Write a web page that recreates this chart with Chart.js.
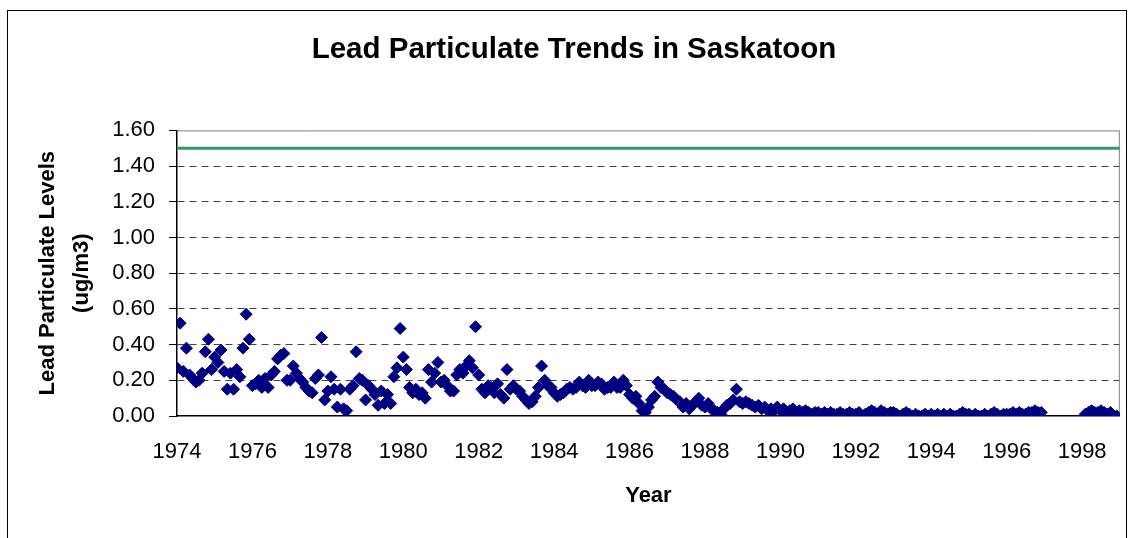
<!DOCTYPE html>
<html>
<head>
<meta charset="utf-8">
<title>Lead Particulate Trends in Saskatoon</title>
<script src="https://cdn.jsdelivr.net/npm/chart.js@4.4.1/dist/chart.umd.min.js"></script>
<style>
    html, body { margin: 0; padding: 0; background: #fff; }
    #wrap { position: relative; width: 1130px; height: 538px; overflow: hidden; }
    #frame { position: absolute; left: 7px; top: 10px; width: 1120px; height: 600px; border: 1px solid #000; box-sizing: border-box; }
    #wrap canvas { position: absolute; left: 0; top: 0; }
</style>
</head>
<body>
<div id="wrap">
    <div id="frame"></div>
    <canvas id="leadChart"></canvas>
</div>
<script>
    // monthly readings (ug/m3), Jan..Dec, starting Jan 1974
    const startYear = 1974;

    const lead1970s = [
        0.27, 0.52, 0.25, 0.38, 0.23, 0.21, 0.19, 0.20, 0.24, 0.36, 0.43, 0.26, // 1974
        0.33, 0.30, 0.37, 0.25, 0.15, 0.24, 0.15, 0.26, 0.22, 0.38, 0.57, 0.43, // 1975
        0.17, 0.18, 0.20, 0.16, 0.21, 0.16, 0.23, 0.25, 0.32, 0.34, 0.35, 0.20, // 1976
        0.20, 0.28, 0.24, 0.21, 0.19, 0.16, 0.14, 0.13, 0.21, 0.23, 0.44, 0.09, // 1977
        0.14, 0.22, 0.15, 0.05, 0.15, 0.04, 0.03, 0.15, 0.17, 0.36, 0.21, 0.20, // 1978
        0.09, 0.17, 0.15, 0.12, 0.06, 0.14, 0.07, 0.12, 0.07, 0.22, 0.27, 0.49  // 1979
    ];

    const lead1980s = [
        0.33, 0.26, 0.16, 0.13, 0.15, 0.12, 0.13, 0.10, 0.26, 0.19, 0.24, 0.30, // 1980
        0.19, 0.20, 0.17, 0.14, 0.14, 0.23, 0.26, 0.24, 0.28, 0.31, 0.27, 0.50, // 1981
        0.23, 0.15, 0.13, 0.17, 0.16, 0.13, 0.18, 0.12, 0.10, 0.26, 0.15, 0.17, // 1982
        0.15, 0.14, 0.11, 0.09, 0.07, 0.08, 0.11, 0.16, 0.28, 0.20, 0.17, 0.16, // 1983
        0.13, 0.11, 0.12, 0.13, 0.15, 0.16, 0.15, 0.16, 0.19, 0.17, 0.16, 0.20, // 1984
        0.17, 0.17, 0.19, 0.18, 0.15, 0.16, 0.16, 0.19, 0.16, 0.16, 0.20, 0.17, // 1985
        0.12, 0.10, 0.11, 0.07, 0.03, 0.02, 0.05, 0.09, 0.11, 0.19, 0.16, 0.15, // 1986
        0.13, 0.12, 0.11, 0.09, 0.08, 0.05, 0.07, 0.04, 0.06, 0.08, 0.10, 0.06, // 1987
        0.05, 0.07, 0.04, 0.03, 0.02, 0.01, 0.04, 0.06, 0.07, 0.09, 0.15, 0.08, // 1988
        0.07, 0.08, 0.07, 0.06, 0.05, 0.06, 0.04, 0.05, 0.03, 0.04, 0.03, 0.05  // 1989
    ];

    const lead1990s = [
        0.03, 0.04, 0.02, 0.03, 0.04, 0.02, 0.03, 0.02, 0.03, 0.02, 0.01, 0.02, // 1990
        0.02, 0.01, 0.02, 0.01, 0.02, 0.01, 0.01, 0.02, 0.01, 0.01, 0.02, 0.01, // 1991
        0.01, 0.02, 0.00, 0.01, 0.02, 0.03, 0.02, 0.01, 0.03, 0.02, 0.01, 0.02, // 1992
        0.02, 0.01, 0.00, 0.01, 0.02, 0.01, 0.00, 0.01, 0.00, 0.00, 0.01, 0.00, // 1993
        0.01, 0.00, 0.01, 0.00, 0.01, 0.00, 0.01, 0.00, 0.00, 0.01, 0.02, 0.01, // 1994
        0.01, 0.00, 0.01, 0.00, 0.00, 0.01, 0.00, 0.01, 0.02, 0.01, 0.00, 0.01, // 1995
        0.01, 0.01, 0.02, 0.01, 0.02, 0.01, 0.01, 0.02, 0.02, 0.03, 0.02, 0.02, // 1996
        null, null, null, null, null, null, null, null, null, null, null, null, // 1997
        null, 0.01, 0.02, 0.03, 0.02, 0.02, 0.03, 0.02, 0.01, 0.02, 0.00, 0.00  // 1998
    ];

    const standardLevel = 1.5;
    const yearTicks = [1974, 1976, 1978, 1980, 1982, 1984, 1986, 1988, 1990, 1992, 1994, 1996, 1998];
    const yearRange = [1974, 1999];
    const levelTicks = [0, 0.2, 0.4, 0.6, 0.8, 1.0, 1.2, 1.4, 1.6];

    const monthly = [...lead1970s, ...lead1980s, ...lead1990s];
    const points = monthly
        .map((v, i) => ({ x: startYear + i / 12, y: v }))
        .filter(p => p.y !== null);

    const fontFamily = '"Liberation Sans", Arial, sans-serif';

    // grey frame on top/right of plot area, like the Excel plot border
    const plotFrame = {
        id: 'plotFrame',
        beforeDatasetsDraw(chart) {
            const { ctx, chartArea: a } = chart;
            ctx.save();
            ctx.strokeStyle = '#808080';
            ctx.lineWidth = 1;
            ctx.beginPath();
            ctx.moveTo(a.left, a.top + 0.5);
            ctx.lineTo(a.right - 0.5, a.top + 0.5);
            ctx.lineTo(a.right - 0.5, a.bottom);
            ctx.stroke();
            ctx.restore();
        }
    };

    const ctx = document.getElementById('leadChart');
    ctx.width = 1130;
    ctx.height = 538;

    new Chart(ctx, {
        data: {
            datasets: [
                {
                    type: 'line',
                    label: 'Standard',
                    data: yearRange.map(x => ({ x, y: standardLevel })),
                    borderColor: '#339966',
                    borderWidth: 3,
                    pointRadius: 0,
                    fill: false
                },
                {
                    type: 'scatter',
                    label: 'Lead',
                    data: points,
                    pointStyle: 'rectRot',
                    pointRadius: 6,
                    pointHoverRadius: 6,
                    backgroundColor: '#000080',
                    borderColor: '#000080',
                    borderWidth: 1
                }
            ]
        },
        options: {
            responsive: false,
            animation: false,
            layout: { padding: { left: 28, right: 10, top: 0, bottom: 0 } },
            plugins: {
                legend: { display: false },
                tooltip: { enabled: false },
                title: {
                    display: true,
                    text: 'Lead Particulate Trends in Saskatoon',
                    color: '#000',
                    font: { family: fontFamily, size: 29.5, weight: 'bold' },
                    padding: { top: 32, bottom: 63 }
                }
            },
            scales: {
                x: {
                    type: 'linear',
                    min: yearRange[0],
                    max: yearRange[1],
                    afterBuildTicks: s => { s.ticks = yearTicks.map(v => ({ value: v })); },
                    afterFit: s => { s.height = 122; },
                    grid: { display: false, drawTicks: false },
                    border: { display: true, color: '#000', width: 1.5 },
                    ticks: {
                        padding: 23,
                        color: '#000',
                        maxRotation: 0,
                        autoSkip: false,
                        font: { family: fontFamily, size: 22 },
                        callback: v => String(v)
                    },
                    title: {
                        display: true,
                        text: 'Year',
                        color: '#000',
                        font: { family: fontFamily, size: 22, weight: 'bold' },
                        padding: { top: 29, bottom: 29 }
                    }
                },
                y: {
                    min: 0,
                    max: 1.6,
                    afterBuildTicks: s => { s.ticks = levelTicks.map(v => ({ value: v })); },
                    afterFit: s => { s.width = 149; },
                    grid: {
                        color: c => (c.tick && (c.tick.value === 0 || c.tick.value === 1.6)) ? 'rgba(0,0,0,0)' : '#444',
                        lineWidth: 1,
                        tickLength: 8,
                        tickColor: '#000',
                        tickBorderDash: []
                    },
                    border: { display: true, color: '#000', width: 1.5, dash: [7, 5] },
                    ticks: {
                        padding: 14,
                        color: '#000',
                        font: { family: fontFamily, size: 22 },
                        callback: v => Number(v).toFixed(2)
                    },
                    title: {
                        display: true,
                        text: ['Lead Particulate Levels', '(ug/m3)'],
                        color: '#000',
                        font: { family: fontFamily, size: 22, weight: 'bold', lineHeight: '34px' },
                        padding: { top: 3, bottom: 0 }
                    }
                }
            }
        },
        plugins: [plotFrame]
    });
</script>
</body>
</html>
